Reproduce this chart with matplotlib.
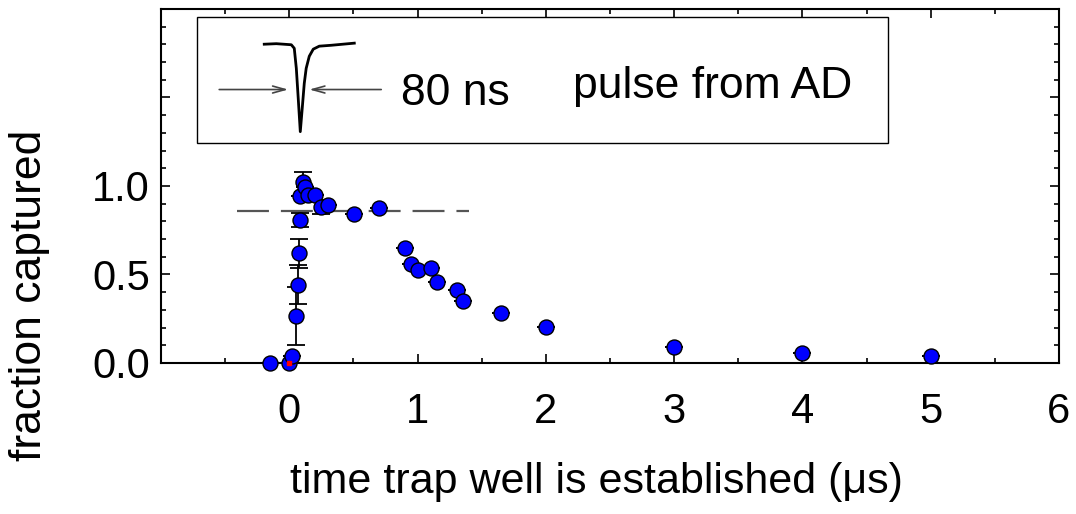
import numpy as np
import matplotlib.pyplot as plt
from matplotlib.patches import Rectangle
from matplotlib.ticker import FixedLocator, FixedFormatter, MultipleLocator

plt.rcParams['font.family'] = ['Liberation Sans', 'DejaVu Sans']
plt.rcParams['lines.scale_dashes'] = False

# measured points: time (us), fraction captured, error
t_us = [-0.15, 0.0, 0.023, 0.055, 0.07, 0.078, 0.08, 0.08, 0.109, 0.125, 0.148,
        0.2, 0.25, 0.30, 0.507, 0.70, 0.90, 0.95, 1.005, 1.107, 1.153, 1.31,
        1.356, 1.65, 2.0, 3.0, 4.0, 5.0]
frac = [0.0, 0.0, 0.04, 0.267, 0.443, 0.619, 0.81, 0.943, 1.023, 0.994, 0.95,
        0.95, 0.88, 0.89, 0.84, 0.875, 0.648, 0.557, 0.528, 0.534, 0.455, 0.415,
        0.352, 0.284, 0.205, 0.091, 0.057, 0.04]
frac_err = [0, 0, 0, 0.165, 0.11, 0.08, 0.04, 0, 0.055, 0, 0,
            0, 0.04, 0, 0, 0, 0, 0, 0, 0, 0, 0,
            0, 0, 0, 0, 0, 0]

# red reference point at t=0
ref_t = [0.0]
ref_frac = [0.0]

# plateau level (dashed)
plateau_t = [-0.41, 1.40]
plateau_frac = [0.86, 0.86]

# AD pulse trace in inset (drawn in data units)
pulse_x = [-0.195, -0.101, 0.016, 0.039, 0.055, 0.070, 0.086, 0.101, 0.117,
           0.132, 0.156, 0.187, 0.234, 0.327, 0.507]
pulse_y = [1.801, 1.804, 1.798, 1.778, 1.665, 1.494, 1.307, 1.438, 1.580,
           1.665, 1.733, 1.773, 1.790, 1.795, 1.807]

x_major = [-1, 0, 1, 2, 3, 4, 5, 6]
x_labels = ['', '0', '1', '2', '3', '4', '5', '6']
y_major = [0.0, 0.5, 1.0, 1.5, 2.0]
y_labels = ['0.0', '0.5', '1.0', '', '']

fig = plt.figure(figsize=(10.76, 5.14), dpi=100)
ax = fig.add_axes([0.1496, 0.2938, 0.8346, 0.6887])

ax.plot(plateau_t, plateau_frac, color='#555555', lw=1.6, dashes=(23, 8.6), zorder=2)

ax.errorbar(t_us, frac, yerr=frac_err, fmt='none', ecolor='black',
            elinewidth=1.3, capsize=6.5, capthick=1.3, zorder=3)
ax.plot(t_us, frac, 'o', ms=10.8, mfc='#0000ff', mec='black', mew=1.0,
        ls='none', zorder=4, clip_on=False)
ax.plot(ref_t, ref_frac, 's', ms=3, color='red', zorder=5, clip_on=False)

# inset: pulse from AD
ax.add_patch(Rectangle((-0.72, 1.244), 5.39, 0.711, fill=False,
                       ec='black', lw=1.0, zorder=2))
ax.plot(pulse_x, pulse_y, color='black', lw=2.0, zorder=3)
arrow = dict(arrowstyle='->,head_length=0.9,head_width=0.25', color='#444444',
             lw=1.2, shrinkA=0, shrinkB=0)
ax.annotate('', xy=(-0.008, 1.545), xytext=(-0.546, 1.545), arrowprops=arrow)
ax.annotate('', xy=(0.156, 1.545), xytext=(0.717, 1.545), arrowprops=arrow)
ax.text(0.873, 1.523, '80 ns', fontsize=32, ha='left', va='center')
ax.text(2.21, 1.56, 'pulse from AD', fontsize=32, ha='left', va='center')

ax.set_xlim(-1, 6)
ax.set_ylim(0, 2.0)
ax.xaxis.set_major_locator(FixedLocator(x_major))
ax.xaxis.set_major_formatter(FixedFormatter(x_labels))
ax.xaxis.set_minor_locator(MultipleLocator(0.5))
ax.yaxis.set_major_locator(FixedLocator(y_major))
ax.yaxis.set_major_formatter(FixedFormatter(y_labels))
ax.yaxis.set_minor_locator(MultipleLocator(0.1))

ax.tick_params(which='both', direction='in', top=True, right=True, width=1.2)
ax.tick_params(which='major', length=6.5)
ax.tick_params(which='minor', length=3.6)
ax.tick_params(axis='x', labelsize=30, pad=21)
ax.tick_params(axis='y', labelsize=30, pad=8)
for s in ax.spines.values():
    s.set_linewidth(1.5)

ax.set_xlabel('time trap well is established (\u03bcs)', fontsize=31,
              ha='center', va='center')
ax.xaxis.set_label_coords(596 / 1076, 1 - 482 / 514, transform=fig.transFigure)
ax.set_ylabel('fraction captured', fontsize=32, ha='center', va='center')
ax.yaxis.set_label_coords(30 / 1076, 1 - 295 / 514, transform=fig.transFigure)

fig.savefig('out.png', dpi=100)
